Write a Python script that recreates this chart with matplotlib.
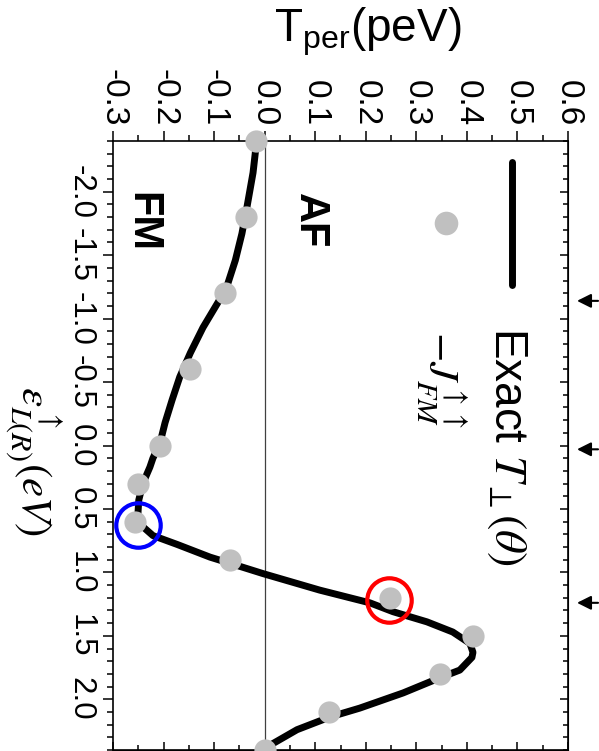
import matplotlib
matplotlib.use('Agg')
import matplotlib.pyplot as plt
from matplotlib.ticker import MultipleLocator, FormatStrFormatter

plt.rcParams['font.family'] = 'Liberation Sans'
plt.rcParams['axes.unicode_minus'] = False

# level energy eps (eV) vs perpendicular coupling T (peV)
eps_curve = [-2.40, -2.36, -2.15, -1.88, -1.67, -1.46, -1.25, -1.15, -0.93, -0.73,
             -0.54, -0.36, -0.18, -0.02, 0.10, 0.17, 0.30, 0.43, 0.56, 0.64,
             0.71, 0.78, 0.88, 0.96, 1.01, 1.14, 1.24, 1.31, 1.39, 1.47,
             1.56, 1.63, 1.67, 1.77, 1.83, 1.95, 2.07, 2.14, 2.24, 2.35, 2.41]
t_exact = [-0.016, -0.017, -0.023, -0.035, -0.045, -0.058, -0.075, -0.089, -0.122, -0.147,
           -0.168, -0.183, -0.197, -0.207, -0.221, -0.227, -0.241, -0.249, -0.251, -0.241,
           -0.221, -0.173, -0.108, -0.043, -0.003, 0.109, 0.208, 0.254, 0.321, 0.372,
           0.406, 0.412, 0.410, 0.386, 0.347, 0.274, 0.188, 0.129, 0.064, 0.016, 0.001]

eps_pts = [-2.4, -1.8, -1.2, -0.6, 0.0, 0.3, 0.6, 0.9, 1.2, 1.5, 1.8, 2.1, 2.4]
j_fm = [-0.017, -0.037, -0.079, -0.147, -0.208, -0.250, -0.257, -0.068, 0.247, 0.412, 0.347, 0.127, 0.0]

# highlighted points (eps, T)
blue_pt = (0.626, -0.251)
red_pt = (1.218, 0.246)

# marker arrows on the right edge
arrow_eps = [-1.14, 0.03, 1.24]

fig = plt.figure(figsize=(5.99, 7.51), dpi=100)
ax = fig.add_axes([113 / 599, 1 / 751, 455 / 599, 609 / 751])

ax.axvline(0, color='#404040', lw=0.9, zorder=1)
ax.plot(t_exact, eps_curve, color='k', lw=5.0, solid_capstyle='round',
        solid_joinstyle='round', zorder=2)
ax.plot(j_fm, eps_pts, 'o', color='#c0c0c0', ms=16, mew=0, zorder=3, clip_on=False)
ax.plot(blue_pt[1], blue_pt[0], 'o', mfc='none', mec='#0000ff', ms=32, mew=3, zorder=4)
ax.plot(red_pt[1], red_pt[0], 'o', mfc='none', mec='#ff0000', ms=32, mew=3, zorder=4)

ax.set_xlim(-0.3, 0.6)
ax.set_ylim(2.4, -2.4)
for s in ax.spines.values():
    s.set_linewidth(1.2)

ax.xaxis.tick_top()
ax.xaxis.set_major_locator(MultipleLocator(0.1))
ax.xaxis.set_minor_locator(MultipleLocator(0.05))
ax.xaxis.set_major_formatter(FormatStrFormatter('%.1f'))
ax.yaxis.set_major_locator(MultipleLocator(0.5))
ax.yaxis.set_minor_locator(MultipleLocator(0.1))
ax.yaxis.set_major_formatter(FormatStrFormatter('%.1f'))
ax.tick_params(which='both', direction='out', width=1.1)
ax.tick_params(which='major', length=7.5)
ax.tick_params(which='minor', length=4.3)
ax.tick_params(axis='x', labelrotation=-90, pad=3, labelsize=24)
ax.tick_params(axis='y', labelrotation=-90, pad=5, labelsize=22.5)
for lab in ax.get_yticklabels():
    lab.set_va('center')

# mirrored inward ticks on right and bottom
sec_r = ax.secondary_yaxis('right')
sec_r.yaxis.set_major_locator(MultipleLocator(0.5))
sec_r.yaxis.set_minor_locator(MultipleLocator(0.1))
sec_r.tick_params(which='both', direction='in', width=1.1, labelright=False)
sec_r.tick_params(which='major', length=6)
sec_r.tick_params(which='minor', length=3.5)
sec_b = ax.secondary_xaxis('bottom')
sec_b.xaxis.set_major_locator(MultipleLocator(0.1))
sec_b.xaxis.set_minor_locator(MultipleLocator(0.05))
sec_b.tick_params(which='both', direction='in', width=1.1, labelbottom=False)
sec_b.tick_params(which='major', length=6)
sec_b.tick_params(which='minor', length=3.5)

ax.xaxis.set_label_position('top')
ax.set_xlabel(r'T$_{\mathregular{per}}$(peV)', fontsize=33)
ax.xaxis.set_label_coords(0.56, 1.18)
ax.xaxis.label.set_va('center')
ax.set_ylabel(r'$\varepsilon^{\uparrow}_{L(R)}(eV)$', fontsize=31, rotation=-90,
              math_fontfamily='stix', ha='center', va='center')
ax.yaxis.set_label_coords(-0.176, 0.475)

ax.text(-0.242, -1.76, 'FM', rotation=-90, fontsize=30, fontweight='bold',
        ha='center', va='center')
ax.text(0.089, -1.77, 'AF', rotation=-90, fontsize=30, fontweight='bold',
        ha='center', va='center')

# legend drawn sideways
ax.plot([0.877, 0.877], [0.7635, 0.9655], transform=ax.transAxes, color='k',
        lw=5.0, solid_capstyle='round')
ax.plot([0.732], [0.865], 'o', transform=ax.transAxes, color='#c0c0c0', ms=17, mew=0)
ax.text(0.8396, 0.6946, r'Exact $T_{\perp}(\theta)$', transform=ax.transAxes,
        rotation=-90, rotation_mode='anchor', ha='left', va='baseline',
        fontsize=33, math_fontfamily='stix')
ax.text(0.692, 0.688, r'$-J^{\uparrow\uparrow}_{FM}$', transform=ax.transAxes,
        rotation=-90, rotation_mode='anchor', ha='left', va='baseline',
        fontsize=31, math_fontfamily='stix')

for e in arrow_eps:
    ax.annotate('', xy=(1.0198, e), xytext=(1.066, e),
                xycoords=('axes fraction', 'data'), annotation_clip=False,
                arrowprops=dict(arrowstyle='-|>,head_length=0.6,head_width=0.3',
                                color='k', lw=1.5, mutation_scale=14,
                                shrinkA=0, shrinkB=0))

fig.savefig('out.png', dpi=100)
